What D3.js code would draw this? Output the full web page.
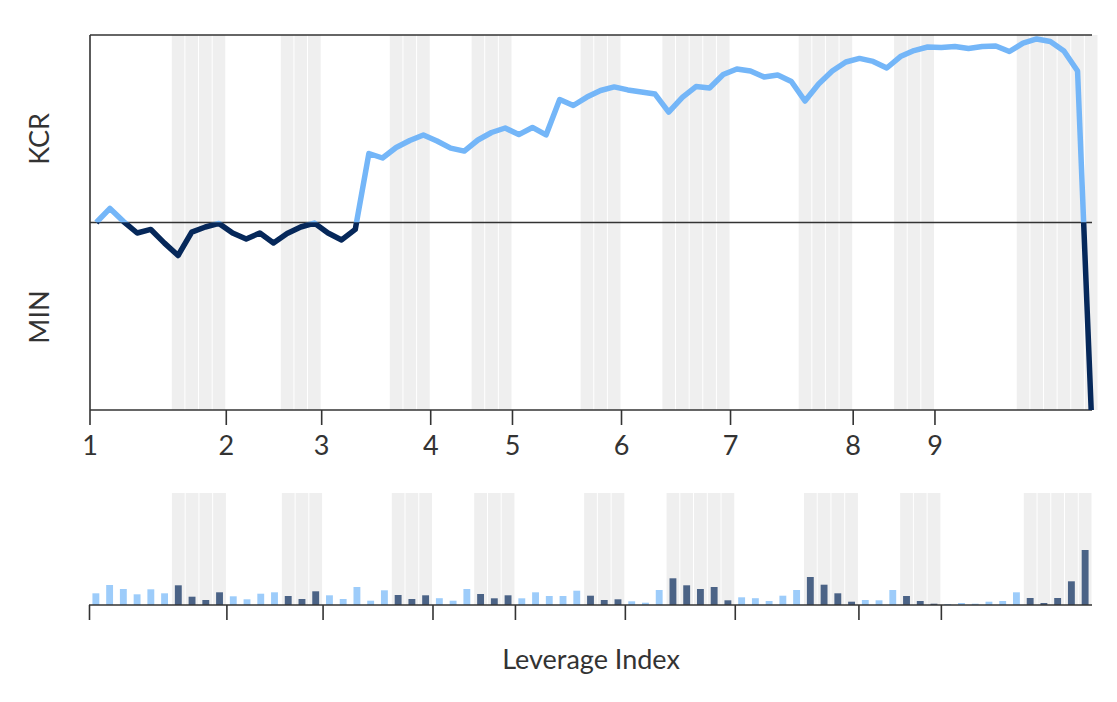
<!DOCTYPE html>
<html>
<head>
<meta charset="utf-8">
<script src="https://cdn.jsdelivr.net/npm/d3@7"></script>
<style>
  body { margin: 0; background: #fff; }
  text { font-family: Lato, "Open Sans", sans-serif; fill: #333; }
</style>
</head>
<body>
<svg id="chart" width="1117" height="702"></svg>
<script>
// cumulative spread, one point per period (74 points)
const spread = [
    0, 7.5, 0.5, -5.6, -3.7, -11, -17.6, -5.1, -2.4, -0.5,
    -5.6, -8.8, -5.6, -10.9, -5.9, -2.4, -0.3, -5.6, -9.3, -3.7,
    36.8, 34.4, 40, 43.7, 46.7, 43.5, 39.7, 38.1, 44, 48,
    50.4, 46.9, 50.7, 46.7, 65.6, 62.4, 66.9, 70.4, 72.3, 70.7,
    69.6, 68.5, 58.9, 66.7, 72.5, 71.7, 78.9, 81.9, 80.8, 77.6,
    78.7, 75.2, 64.8, 73.9, 80.8, 85.6, 87.5, 85.9, 82.4, 88.5,
    91.7, 93.6, 93.3, 93.9, 92.8, 93.9, 94.1, 91.2, 95.7, 97.9,
    96.5, 91.5, 80.8, -100
];

// leverage per period (73 bars)
const leverage = [
    11.7, 20, 16, 10.7, 15.7, 11.7, 19.7, 8.3, 5, 12.7,
    8.7, 5.7, 11.3, 12.7, 9, 6, 13.7, 9.7, 6, 18,
    4.3, 14.7, 10, 6, 9.7, 6.8, 4.3, 16, 11, 6.7,
    9.7, 6.7, 12.7, 9, 9, 14.3, 9.3, 5, 5.7, 3.7,
    2.3, 15, 26.7, 19.7, 16, 18, 4.7, 7.7, 6.8, 4,
    9.3, 15, 28, 20.3, 11.7, 3.3, 5, 4.7, 15, 9,
    4, 1.3, 1, 2, 1.3, 3.3, 4, 12.7, 7, 2,
    7, 23.7, 55
];

// shaded periods [first, last] index
const shadeTop = [[6, 9], [14, 16], [22, 24], [28, 30], [36, 38], [42, 46], [52, 55], [59, 61], [68, 73]];
const shadeBottom = [[6, 9], [14, 16], [22, 24], [28, 30], [36, 38], [42, 46], [52, 55], [59, 61], [68, 72]];

const tickIdx = [0, 10, 17, 25, 31, 39, 47, 56, 62];
const tickLabels = ["1", "2", "3", "4", "5", "6", "7", "8", "9"];

const lightBlue = "#74b6f8";
const navy = "#06285a";
const shadeFill = "#efefef";

const svg = d3.select("#chart");

// ---- top panel
const topCol = d3.scaleBand().domain(d3.range(spread.length)).range([89.5, 1098]);
const topEdge = d3.scaleLinear().domain([0, spread.length]).range([89.5, 1098]);
const y = d3.scaleLinear().domain([-100, 100]).range([410, 35]);

const topShadeCols = [];
shadeTop.forEach(([a, b]) => { for (let i = a; i <= b; i++) topShadeCols.push(i); });

svg.append("g")
    .selectAll("rect")
    .data(topShadeCols)
    .enter().append("rect")
    .attr("x", d => topCol(d) + 0.5)
    .attr("width", topCol.bandwidth() - 1)
    .attr("y", y(100))
    .attr("height", y(-100) - y(100))
    .attr("fill", shadeFill);

// frame lines
const frame = svg.append("g").attr("stroke", "#333").attr("stroke-width", 1.6);
frame.append("line").attr("x1", 90).attr("x2", 1092).attr("y1", y(100)).attr("y2", y(100));
frame.append("line").attr("x1", 90).attr("x2", 1092).attr("y1", y(0)).attr("y2", y(0));
frame.append("line").attr("x1", 90).attr("x2", 90).attr("y1", y(100)).attr("y2", y(-100));

const topAxis = svg.append("g")
    .attr("transform", `translate(0,${y(-100)})`)
    .call(d3.axisBottom(topEdge)
        .tickValues(tickIdx)
        .tickFormat((d, i) => tickLabels[i])
        .tickSize(15)
        .tickPadding(11));
topAxis.select(".domain").remove();
topAxis.append("line").attr("x1", 90).attr("x2", 1092).attr("stroke", "#333").attr("stroke-width", 1.6);
topAxis.selectAll(".tick line").attr("stroke", "#333").attr("stroke-width", 1.6);
topAxis.selectAll(".tick text")
    .style("font-family", "Lato, sans-serif")
    .style("font-size", "27px")
    .attr("fill", "#333");

// spread line, split at zero
const defs = svg.append("defs");
defs.append("clipPath").attr("id", "above")
    .append("rect").attr("x", 0).attr("y", 0).attr("width", 1117).attr("height", y(0));
defs.append("clipPath").attr("id", "below")
    .append("rect").attr("x", 0).attr("y", y(0)).attr("width", 1117).attr("height", 702 - y(0));

const line = d3.line()
    .x((d, i) => topCol(i) + topCol.bandwidth() / 2)
    .y(d => y(d));

[["above", lightBlue], ["below", navy]].forEach(([clip, color]) => {
    svg.append("path")
        .datum(spread)
        .attr("clip-path", `url(#${clip})`)
        .attr("fill", "none")
        .attr("stroke", color)
        .attr("stroke-width", 5.5)
        .attr("stroke-linejoin", "round")
        .attr("d", line);
});

svg.append("text")
    .attr("transform", `translate(49,${139}) rotate(-90)`)
    .attr("text-anchor", "middle")
    .style("font-size", "27px")
    .text("KCR");
svg.append("text")
    .attr("transform", `translate(49,${317}) rotate(-90)`)
    .attr("text-anchor", "middle")
    .style("font-size", "27px")
    .text("MIN");

// ---- bottom panel
const botCol = d3.scaleBand().domain(d3.range(leverage.length)).range([89, 1092]);
const botEdge = d3.scaleLinear().domain([0, leverage.length]).range([89, 1092]);
const yb = d3.scaleLinear().domain([0, 112]).range([605, 493]);

const botShadeCols = [];
shadeBottom.forEach(([a, b]) => { for (let i = a; i <= b; i++) botShadeCols.push(i); });
const isShaded = i => botShadeCols.includes(i);

svg.append("g")
    .selectAll("rect")
    .data(botShadeCols)
    .enter().append("rect")
    .attr("x", d => botCol(d) + 0.5)
    .attr("width", botCol.bandwidth() - 1)
    .attr("y", yb(112))
    .attr("height", yb(0) - yb(112))
    .attr("fill", shadeFill);

svg.append("g")
    .selectAll("rect")
    .data(leverage)
    .enter().append("rect")
    .attr("x", (d, i) => botCol(i) + botCol.bandwidth() * 0.25)
    .attr("width", botCol.bandwidth() * 0.5)
    .attr("y", d => yb(d))
    .attr("height", d => yb(0) - yb(d))
    .attr("fill", (d, i) => isShaded(i) ? navy : lightBlue)
    .attr("fill-opacity", 0.7);

const botAxis = svg.append("g")
    .attr("transform", `translate(0,${yb(0)})`)
    .call(d3.axisBottom(botEdge)
        .tickValues(tickIdx)
        .tickFormat("")
        .tickSize(15));
botAxis.select(".domain").remove();
botAxis.append("line").attr("x1", 89).attr("x2", 1092).attr("stroke", "#333").attr("stroke-width", 1.6);
botAxis.selectAll(".tick line").attr("stroke", "#333").attr("stroke-width", 1.6);

svg.append("text")
    .attr("x", 591)
    .attr("y", 669)
    .attr("text-anchor", "middle")
    .style("font-size", "27px")
    .text("Leverage Index");
</script>
</body>
</html>
